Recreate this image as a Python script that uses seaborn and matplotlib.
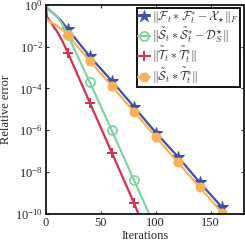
import matplotlib
matplotlib.use('Agg')
import matplotlib.pyplot as plt
import numpy as np
import seaborn as sns

# Data (iterations, relative error)
iters_F = [0, 5, 10, 15, 20, 40, 60, 80, 100, 120, 140, 160, 166]
err_F = [7.9e-1, 4.8e-1, 2.8e-1, 1.5e-1, 6.9e-2, 3.4e-3, 2.3e-4, 1.35e-5,
         7.8e-7, 5.5e-8, 3.2e-9, 2.1e-10, 5.5e-11]

iters_S = [0, 5, 10, 15, 20, 40, 60, 80, 94]
err_S = [7.9e-1, 4.8e-1, 2.8e-1, 1.2e-1, 3.6e-2, 2.0e-4, 9.8e-7, 4.3e-9, 1.0e-10]

iters_T = [0, 1, 3, 5, 8, 10, 15, 20, 40, 60, 80, 85]
err_T = [1.0, 2.8e-1, 1.8e-1, 1.4e-1, 7.6e-2, 5.6e-2, 1.9e-2, 5.2e-3,
         2.1e-5, 8.5e-8, 3.5e-10, 7.9e-11]

iters_ST = [0, 2, 4, 8, 12, 16, 20, 40, 60, 80, 100, 120, 140, 160, 162]
err_ST = [2.5e-1, 1.8e-1, 1.5e-1, 1.2e-1, 8.5e-2, 6.0e-2, 3.6e-2, 2.1e-3,
          1.3e-4, 7.9e-6, 5.0e-7, 2.95e-8, 1.9e-9, 1.15e-10, 8.9e-11]

labels = [r'$\|\mathcal{F}_t * \mathcal{F}_t^{*} - \mathcal{X}_{\star}\|_F$',
          r'$\|\tilde{\mathcal{S}}_t * \tilde{\mathcal{S}}_t^{*} - \mathcal{D}_S^{\star}\|$',
          r'$\|\tilde{\mathcal{T}}_t * \tilde{\mathcal{T}}_t^{*}\|$',
          r'$\|\tilde{\mathcal{S}}_t * \tilde{\mathcal{T}}_t^{*}\|$']

sns.set_theme(style='ticks')
plt.rcParams['font.family'] = ['Liberation Serif', 'DejaVu Serif']
plt.rcParams['mathtext.fontset'] = 'cm'
plt.rcParams['axes.linewidth'] = 1.2

fig = plt.figure(figsize=(2.45, 2.45), dpi=100)
ax = fig.add_axes([0.187, 0.127, 0.808, 0.853])

styles = [
    (iters_F, err_F, '#3d4fa8', dict(marker='*', markersize=9)),
    (iters_S, err_S, '#82d3a0', dict(marker='o', markersize=6.5, markerfacecolor='none', markeredgewidth=1.3)),
    (iters_T, err_T, '#d8304c', dict(marker='+', markersize=7, markeredgewidth=1.4)),
    (iters_ST, err_ST, '#f8b15a', dict(marker='o', markersize=6.5)),
]

for (x, y, c, mk), lab in zip(styles, labels):
    every = [i for i, v in enumerate(x) if v % 20 == 0 and v > 0]
    sns.lineplot(x=x, y=y, ax=ax, color=c, linewidth=1.6, label=lab,
                 sort=False, estimator=None, markevery=every,
                 markeredgecolor=c, **mk)

ax.set_yscale('log')
ax.set_xlim(0, 180)
ax.set_ylim(1e-10, 1)
ax.set_yticks([1e-10, 1e-8, 1e-6, 1e-4, 1e-2, 1])
ax.yaxis.set_minor_locator(matplotlib.ticker.NullLocator())
ax.set_xticks([0, 50, 100, 150])
ax.tick_params(direction='in', top=True, right=True, labelsize=9,
               length=2.5, width=0.8, pad=2)
for s in ax.spines.values():
    s.set_color('black')

ax.set_xlabel('Iterations', fontsize=9, labelpad=1)
ax.set_ylabel('Relative error', fontsize=9, labelpad=2)

leg = ax.legend(loc='upper right', fontsize=8.6, frameon=True, fancybox=False,
                framealpha=1, edgecolor='black', borderpad=0.1,
                labelspacing=0.02, handlelength=1.0, handletextpad=0.15,
                borderaxespad=0.3)
leg.get_frame().set_linewidth(1.3)

fig.savefig('out.png', dpi=100)
